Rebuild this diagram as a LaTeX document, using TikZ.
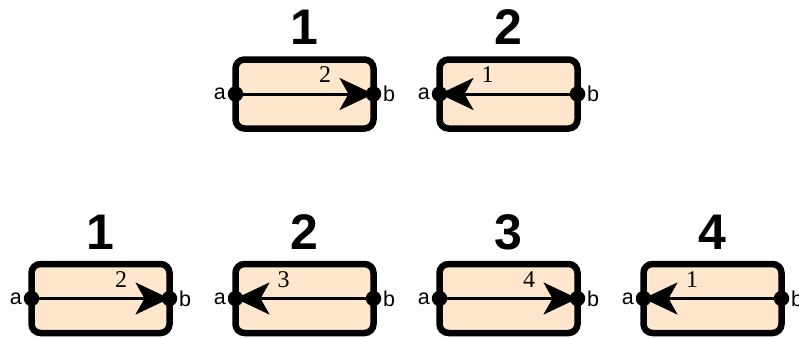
\documentclass[tikz,border=0pt]{standalone}
\usepackage{fontspec}
\usepackage{xcolor}
\newfontfamily\etiq{Liberation Sans}
\newfontfamily\numer{Liberation Serif}
\definecolor{cajafondo}{HTML}{FFE6CC}
\usetikzlibrary{arrows.meta}

\begin{document}
\begin{tikzpicture}[
    x=1pt, y=-1pt,
    caja/.style={draw=black, line width=6.5pt, fill=cajafondo, rounded corners=9pt,
        minimum width=138pt, minimum height=69pt, inner sep=0pt, outer sep=0pt},
    punto/.style={circle, fill=black, minimum size=15.5pt, inner sep=0pt},
    flecha/.style={line width=3pt, -{Stealth[length=34pt, width=32pt, inset=9pt]}},
    titulo/.style={font=\etiq\bfseries\fontsize{50}{50}\selectfont, inner sep=0pt},
    extremo/.style={font=\etiq\fontsize{21.5}{21.5}\selectfont, inner sep=1.5pt},
    orden/.style={font=\numer\fontsize{24}{24}\selectfont, inner sep=0pt}
]
\useasboundingbox (0,0) rectangle (799,337);

% Cajas: nombre / x / y / titulo / origen / destino / etiqueta / desplazamiento
\foreach \n/\cx/\cy/\t/\ini/\fin/\k/\dx in {
    s1/304.5/94/1/a/b/2/20.5,
    s2/508.5/94/2/b/a/1/-21,
    r1/100.5/298.5/1/a/b/2/20.5,
    r2/304.5/298.5/2/b/a/3/-21,
    r3/508.5/298.5/3/a/b/4/20.5,
    r4/712.5/298.5/4/b/a/1/-20.5} {
    \node[caja] (\n) at (\cx,\cy) {};
    \node[titulo] (\n-t) at (\cx,\cy-66.5) {\t};
    \coordinate (\n-a) at (\n.west);
    \coordinate (\n-b) at (\n.east);
    % flecha entre los extremos
    \draw[flecha] (\n-\ini) -- (\n-\fin);
    \node[punto] (\n-pa) at (\n-a) {};
    \node[punto] (\n-pb) at (\n-b) {};
    \node[extremo, left] (\n-la) at (\n-pa.west) {a};
    \node[extremo, right] (\n-lb) at (\n-pb.east) {b};
    \node[orden, xshift=\dx pt, yshift=19pt] (\n-k) at (\n.center) {\k};
}

\end{tikzpicture}
\end{document}
